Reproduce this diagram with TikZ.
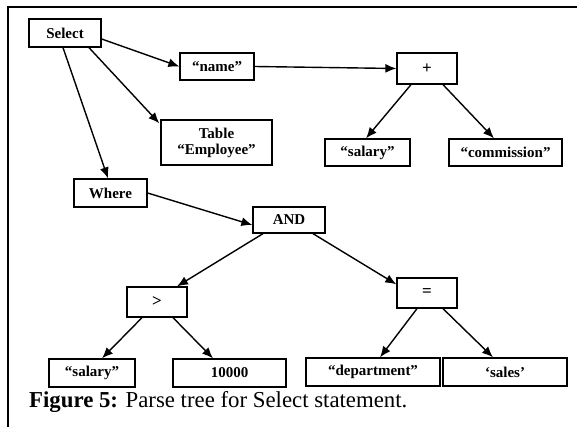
\documentclass[tikz,border=0pt]{standalone}
\usepackage{fontspec}
\setmainfont{Liberation Serif}
\usetikzlibrary{arrows.meta}
\begin{document}
\begin{tikzpicture}[x=1pt,y=-1pt,
  box/.style={draw,line width=1.3pt,inner sep=0pt,align=center,
    font=\fontsize{15}{16}\selectfont\bfseries},
  edge/.style={line width=1.4pt,-{Latex[length=11pt,width=9pt]}},
  frameline/.style={line width=1.6pt}]
\useasboundingbox (0,0) rectangle (577,427);
\coordinate (ftl) at (8,7);
\coordinate (ftr) at (577,7);
\coordinate (fbl) at (8,427);
\draw[frameline] (ftr) -- (ftl) -- (fbl);

\node[box,minimum width=72pt,minimum height=28pt] (select) at (65,33) {Select};
\node[box,minimum width=74pt,minimum height=27pt] (name) at (217,66.5) {``name''};
\node[box,minimum width=111pt,minimum height=45pt] (table) at (216.5,142.5) {Table\\``Employee''};
\node[box,minimum width=73pt,minimum height=28pt] (where) at (110.5,193) {Where};
\node[box,minimum width=60pt,minimum height=31pt,font=\fontsize{17}{18}\selectfont\bfseries] (plus) at (427,68.5) {+};
\node[box,minimum width=85pt,minimum height=27pt] (salary1) at (367.5,152.5) {``salary''};
\node[box,minimum width=113pt,minimum height=27pt] (comm) at (505.5,152.5) {``commission''};
\node[box,minimum width=72pt,minimum height=26pt] (and) at (289,220) {AND};
\node[box,minimum width=60pt,minimum height=30pt,font=\fontsize{17}{18}\selectfont\bfseries] (gt) at (157,302) {>};
\node[box,minimum width=60pt,minimum height=30pt,font=\fontsize{17}{18}\selectfont\bfseries] (eq) at (427,293) {=};
\node[box,minimum width=86pt,minimum height=28pt] (salary2) at (92,373) {``salary''};
\node[box,minimum width=113pt,minimum height=28pt] (num) at (229.5,373) {10000};
\node[box,minimum width=134pt,minimum height=28pt] (dept) at (373,372) {``department''};
\node[box,minimum width=124pt,minimum height=28pt] (sales) at (505,372) {`sales'};

\node[anchor=base west,inner sep=0pt,font=\fontsize{22.8}{24}\selectfont] (cap) at (29,407)
  {\textbf{Figure 5:} Parse tree for Select statement.};

\draw[edge] ([yshift=-6pt]select.east) -- (name.west);
\draw[edge] ([xshift=24pt]select.south) -- ([yshift=-4pt,xshift=-1pt]table.north west);
\draw[edge] ([xshift=-2pt]select.south) -- ([xshift=-2.5pt]where.north);
\draw[edge] (name.east) -- (plus.west);
\draw[edge] ([xshift=-16pt]plus.south) -- ([xshift=-1.5pt]salary1.north);
\draw[edge] ([xshift=16pt]plus.south) -- ([xshift=-11.5pt]comm.north);
\draw[edge] (where.east) -- ([yshift=-5pt]and.west);
\draw[edge] ([xshift=-26pt]and.south) -- ([xshift=20pt]gt.north);
\draw[edge] ([xshift=24pt]and.south) -- ([yshift=-7pt]eq.north west);
\draw[edge] ([xshift=-15pt]gt.south) -- ([xshift=10pt]salary2.north);
\draw[edge] ([xshift=16pt]gt.south) -- ([xshift=-16.5pt]num.north);
\draw[edge] ([xshift=-10pt]eq.south) -- ([xshift=7pt]dept.north);
\draw[edge] ([xshift=16pt]eq.south) -- ([xshift=-12pt]sales.north);
\end{tikzpicture}
\end{document}
